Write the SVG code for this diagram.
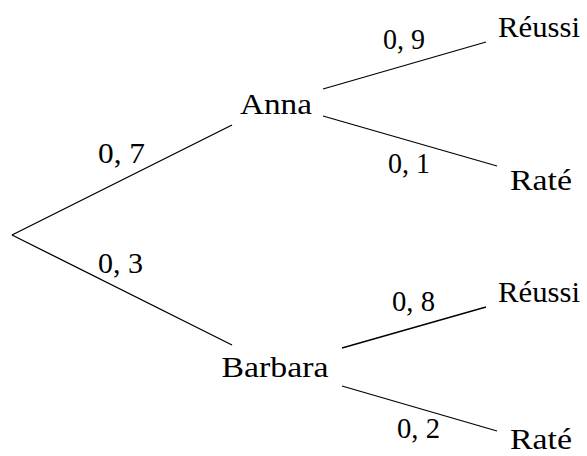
<svg xmlns="http://www.w3.org/2000/svg" width="587" height="456" viewBox="0 0 587 456">
<style>
text{font-family:"Liberation Serif","DejaVu Serif","Times New Roman",serif;font-size:29px;fill:#000}
.e{stroke:#000;stroke-width:1.3;fill:none}
</style>
<rect width="587" height="456" fill="#fff"/>
<g id="connectors">
<line class="e" x1="12" y1="235" x2="232" y2="125"/>
<line class="e" x1="12" y1="235" x2="232" y2="345"/>
<line class="e" x1="323" y1="89" x2="486" y2="42"/>
<line class="e" x1="323" y1="116" x2="497" y2="166"/>
<line class="e" x1="342" y1="348" x2="486" y2="307"/>
<line class="e" x1="342" y1="386" x2="497" y2="431"/>
<text x="98" y="163" textLength="47" lengthAdjust="spacingAndGlyphs">0, 7</text>
<text x="98" y="273" textLength="45" lengthAdjust="spacingAndGlyphs">0, 3</text>
<text x="383" y="48.5" textLength="42" lengthAdjust="spacingAndGlyphs">0, 9</text>
<text x="388" y="173" textLength="42" lengthAdjust="spacingAndGlyphs">0, 1</text>
<text x="392" y="311" textLength="43" lengthAdjust="spacingAndGlyphs">0, 8</text>
<text x="397" y="438" textLength="43" lengthAdjust="spacingAndGlyphs">0, 2</text>
</g>
<g id="anna"><text x="240" y="114" textLength="72" lengthAdjust="spacingAndGlyphs">Anna</text></g>
<g id="barbara"><text x="221.5" y="377" textLength="107" lengthAdjust="spacingAndGlyphs">Barbara</text></g>
<g id="reussi1"><text x="498" y="37" textLength="82" lengthAdjust="spacingAndGlyphs">Réussi</text></g>
<g id="rate1"><text x="510" y="190" textLength="62" lengthAdjust="spacingAndGlyphs">Raté</text></g>
<g id="reussi2"><text x="498" y="302" textLength="82" lengthAdjust="spacingAndGlyphs">Réussi</text></g>
<g id="rate2"><text x="510" y="449" textLength="62" lengthAdjust="spacingAndGlyphs">Raté</text></g>
</svg>
